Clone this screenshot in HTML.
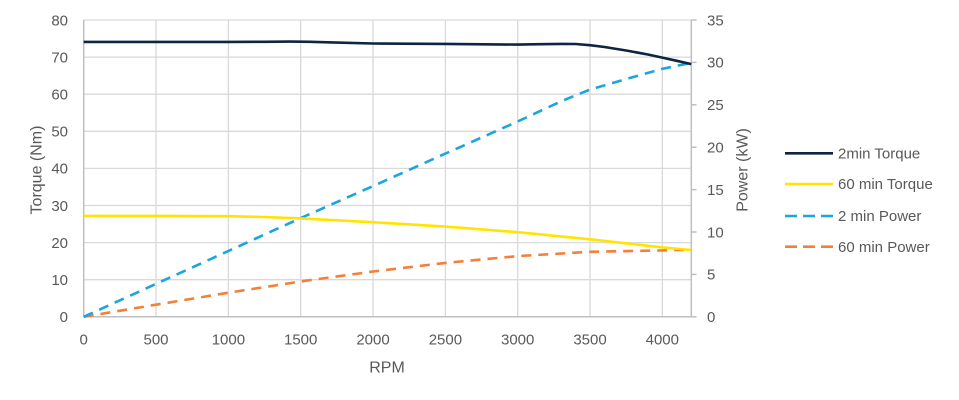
<!DOCTYPE html>
<html><head><meta charset="utf-8"><style>
html,body{margin:0;padding:0;background:#fff;}
svg{display:block;}
text{font-family:"Liberation Sans",sans-serif;fill:#595959;}
</style></head><body>
<svg width="959" height="400" viewBox="0 0 959 400" xmlns="http://www.w3.org/2000/svg">
<rect width="959" height="400" fill="#fff"/>
<g stroke="#d9d9d9" stroke-width="1.3" fill="none">
<line x1="83.7" y1="20" x2="691.3" y2="20"/>
<line x1="83.7" y1="57.1" x2="691.3" y2="57.1"/>
<line x1="83.7" y1="94.2" x2="691.3" y2="94.2"/>
<line x1="83.7" y1="131.3" x2="691.3" y2="131.3"/>
<line x1="83.7" y1="168.4" x2="691.3" y2="168.4"/>
<line x1="83.7" y1="205.5" x2="691.3" y2="205.5"/>
<line x1="83.7" y1="242.6" x2="691.3" y2="242.6"/>
<line x1="83.7" y1="279.7" x2="691.3" y2="279.7"/>
<line x1="156" y1="20" x2="156" y2="316.8"/>
<line x1="228.4" y1="20" x2="228.4" y2="316.8"/>
<line x1="300.7" y1="20" x2="300.7" y2="316.8"/>
<line x1="373" y1="20" x2="373" y2="316.8"/>
<line x1="445.4" y1="20" x2="445.4" y2="316.8"/>
<line x1="517.7" y1="20" x2="517.7" y2="316.8"/>
<line x1="590" y1="20" x2="590" y2="316.8"/>
<line x1="662.3" y1="20" x2="662.3" y2="316.8"/>
</g>
<g stroke="#bfbfbf" stroke-width="1.5" fill="none">
<line x1="83.7" y1="20" x2="83.7" y2="316.8"/>
<line x1="83.7" y1="316.8" x2="691.3" y2="316.8"/>
<line x1="691.3" y1="20" x2="691.3" y2="316.8"/>
<line x1="691.3" y1="20" x2="696.5" y2="20"/>
<line x1="691.3" y1="62.4" x2="696.5" y2="62.4"/>
<line x1="691.3" y1="104.8" x2="696.5" y2="104.8"/>
<line x1="691.3" y1="147.2" x2="696.5" y2="147.2"/>
<line x1="691.3" y1="189.6" x2="696.5" y2="189.6"/>
<line x1="691.3" y1="232" x2="696.5" y2="232"/>
<line x1="691.3" y1="274.4" x2="696.5" y2="274.4"/>
<line x1="691.3" y1="316.8" x2="696.5" y2="316.8"/>
</g>
<!-- series -->
<polyline fill="none" stroke="#F47F3A" stroke-width="2.6" stroke-dasharray="10 7" points="83.7,316.8 156,304.7 228.4,292.7 300.7,281.5 373,271.5 445.4,262.9 517.7,256.1 590,251.8 662.3,250.4 691.3,249.7"/>
<polyline fill="none" stroke="#1BA5E0" stroke-width="2.6" stroke-dasharray="10 7" points="83.7,316.8 156,283.9 228.4,251 300.7,218.1 373,186.1 445.4,153.6 517.7,121.5 561.1,101.3 590,89.6 626.2,79 662.3,68.9 691.3,62.8"/>
<polyline fill="none" stroke="#FFE400" stroke-width="2.6" stroke-linejoin="round" points="83.7,215.9 156,215.9 228.4,216.2 264.5,217 300.7,218.4 373,222.2 445.4,226.6 517.7,232.2 590,239.3 662.3,247.4 691.3,250"/>
<polyline fill="none" stroke="#0E2541" stroke-width="2.6" stroke-linejoin="round" points="83.7,41.9 228.4,41.9 264.5,41.8 290,41.6 310,41.8 336.9,42.6 373,43.5 445.4,43.9 517.7,44.6 540,44.2 561.1,43.9 575.5,44 590,45.2 604.5,47 626.2,50.5 647.9,54.5 662.3,57.6 676.8,60.8 691.3,64.1"/>
<!-- left ticks -->
<g font-size="15" text-anchor="end">
<text x="68" y="25.3">80</text>
<text x="68" y="62.4">70</text>
<text x="68" y="99.5">60</text>
<text x="68" y="136.6">50</text>
<text x="68" y="173.7">40</text>
<text x="68" y="210.8">30</text>
<text x="68" y="247.9">20</text>
<text x="68" y="285">10</text>
<text x="68" y="322.1">0</text>
</g>
<g font-size="15" text-anchor="start">
<text x="707" y="25.3">35</text>
<text x="707" y="67.7">30</text>
<text x="707" y="110.1">25</text>
<text x="707" y="152.5">20</text>
<text x="707" y="194.9">15</text>
<text x="707" y="237.3">10</text>
<text x="707" y="279.7">5</text>
<text x="707" y="322.1">0</text>
</g>
<g font-size="15" text-anchor="middle">
<text x="83.7" y="344.5">0</text>
<text x="156" y="344.5">500</text>
<text x="228.4" y="344.5">1000</text>
<text x="300.7" y="344.5">1500</text>
<text x="373" y="344.5">2000</text>
<text x="445.4" y="344.5">2500</text>
<text x="517.7" y="344.5">3000</text>
<text x="590" y="344.5">3500</text>
<text x="662.3" y="344.5">4000</text>
</g>
<text x="387" y="372.5" font-size="16" text-anchor="middle">RPM</text>
<text transform="translate(41.5,170) rotate(-90)" font-size="16" text-anchor="middle">Torque (Nm)</text>
<text transform="translate(747.5,170) rotate(-90)" font-size="16" text-anchor="middle">Power (kW)</text>
<!-- legend -->
<line x1="785" y1="153.3" x2="833" y2="153.3" stroke="#0E2541" stroke-width="2.6"/>
<line x1="785" y1="184" x2="833" y2="184" stroke="#FFE400" stroke-width="2.6"/>
<line x1="785" y1="216" x2="833" y2="216" stroke="#1BA5E0" stroke-width="2.6" stroke-dasharray="12 6"/>
<line x1="785" y1="246.7" x2="833" y2="246.7" stroke="#F47F3A" stroke-width="2.6" stroke-dasharray="12 6"/>
<g font-size="15">
<text x="838" y="158.5">2min Torque</text>
<text x="838" y="189.2">60 min Torque</text>
<text x="838" y="221.2">2 min Power</text>
<text x="838" y="251.9">60 min Power</text>
</g>
</svg>
</body></html>
